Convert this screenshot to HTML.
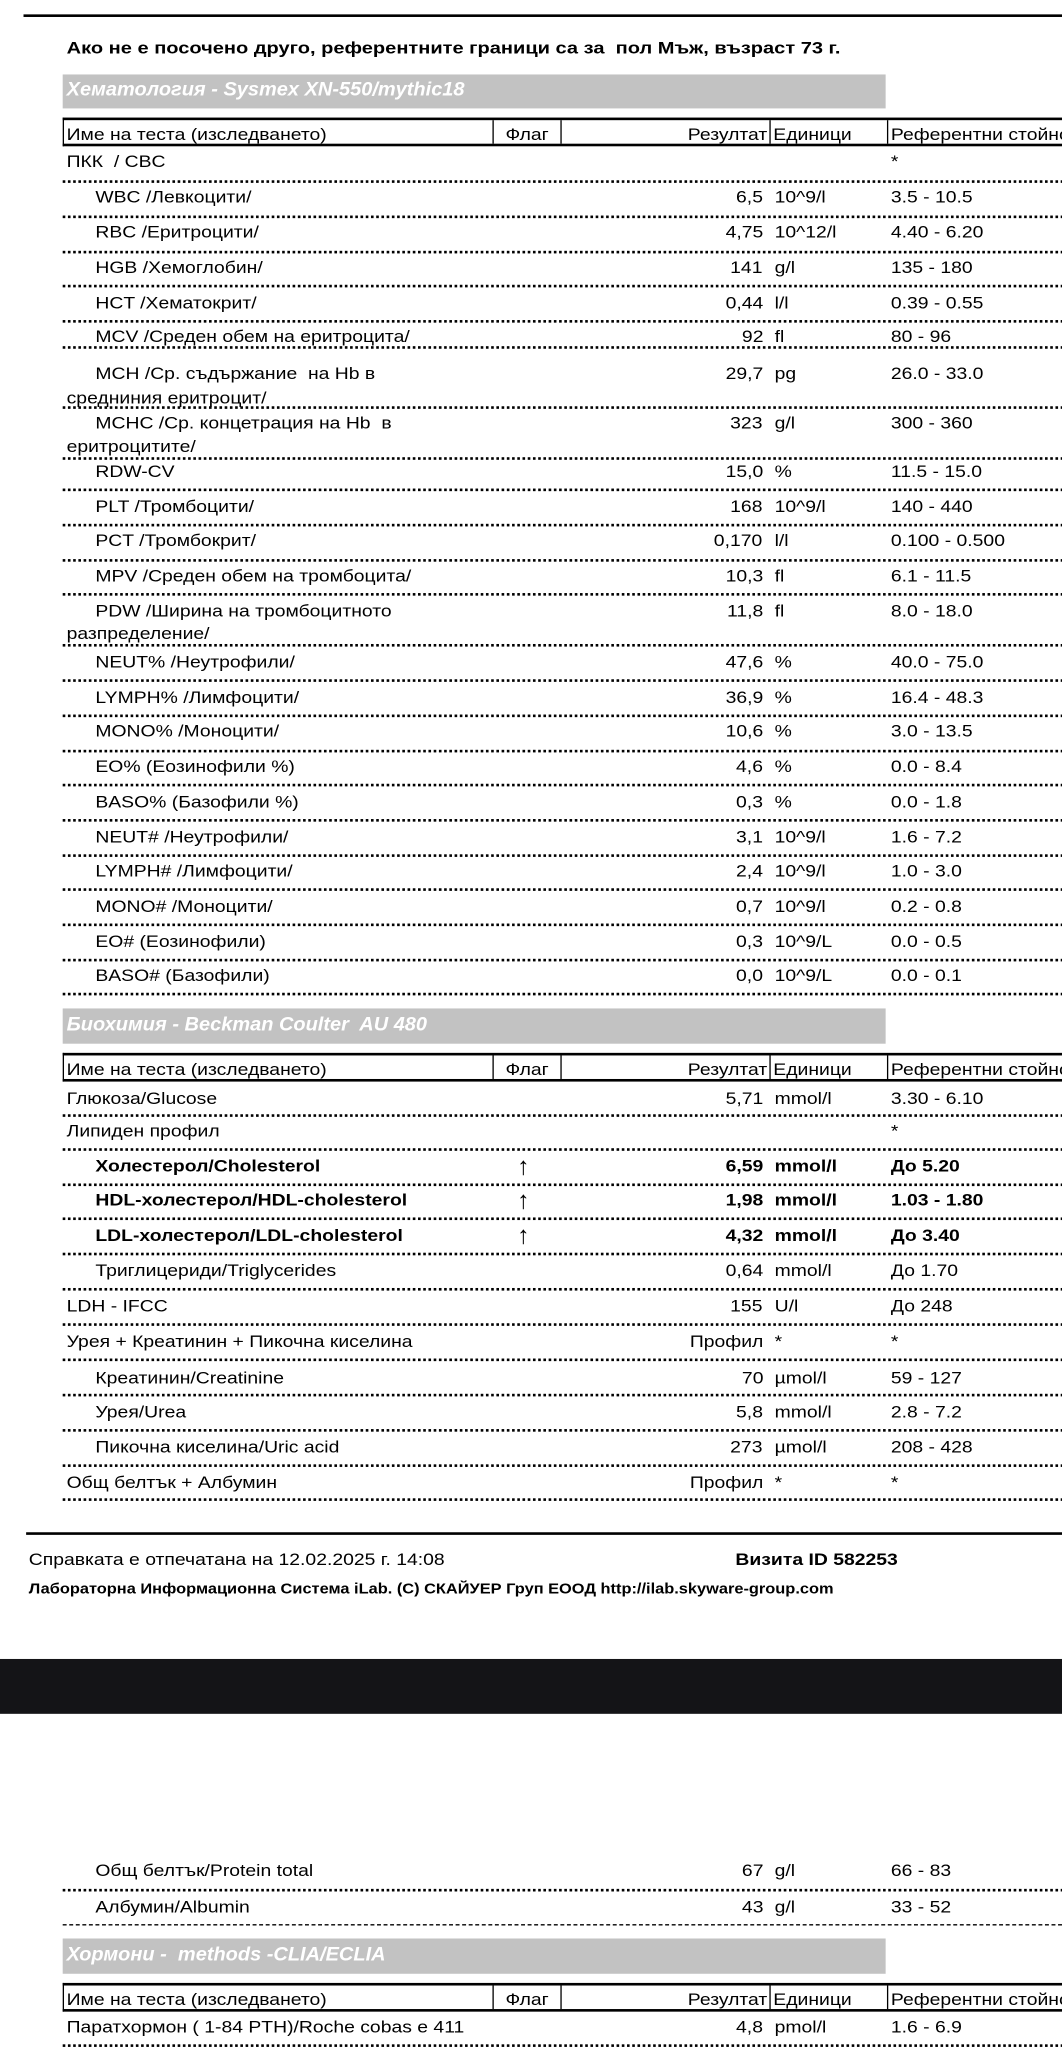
<!DOCTYPE html>
<html><head><meta charset="utf-8">
<style>
html,body{margin:0;padding:0;background:#fff;}
body{width:1062px;height:2048px;overflow:hidden;position:relative;}
#p{position:absolute;left:0;top:0;width:813px;height:1568px;transform:scale(1.30627);transform-origin:0 0;font-family:"Liberation Sans",Arial,sans-serif;color:#000;}
.a{position:absolute;white-space:nowrap;font-size:13px;line-height:16px;height:16px;}
.l{transform:scaleX(1.14);transform-origin:left center;}
.rr{transform:scaleX(1.14);transform-origin:right center;text-align:right;}
.n{left:50.5px}.ni{left:73px}.u{left:592.5px}.f{left:682px}.fl{left:396px;font-size:19px;line-height:18px;font-weight:normal!important}
.v{right:229px}
.b{font-weight:bold}
.d{position:absolute;left:47.5px;width:770px;height:0;border-top:2px dotted #000;}
.g{position:absolute;left:47.5px;width:630.5px;background:#c2c2c2;}
.g span{position:absolute;left:3px;font-style:italic;font-weight:bold;color:#fff;font-size:15px;white-space:nowrap;transform:scaleX(1.02);transform-origin:left center;}
.h{position:absolute;left:47.5px;width:770px;border-top:2px solid #000;border-bottom:2px solid #000;border-left:1px solid #000;box-sizing:border-box;}
.h i{position:absolute;top:0;bottom:0;width:0;border-left:1.5px solid #000;}
.h span{position:absolute;font-size:13px;white-space:nowrap;top:3px;}
</style></head><body><div id="p">

<div style="position:absolute;left:17.6px;top:11px;width:800px;border-top:2px solid #000"></div>
<div class="a b" style="left:50.8px;top:29px;transform:scaleX(1.18);transform-origin:left center">Ако не е посочено друго, референтните граници са за&nbsp; пол Мъж, възраст 73 г.</div>

<div class="g" style="top:57px;height:26px"><span style="top:3px">Хематология - Sysmex XN-550/mythic18</span></div>
<div class="h" style="top:90px;height:22px"><i style="left:328px"></i><i style="left:380px"></i><i style="left:540px"></i><i style="left:630px"></i>
<span class="l" style="left:2px">Име на теста (изследването)</span><span class="l" style="left:338px">Флаг</span><span class="rr" style="right:230px">Резултат</span><span class="l" style="left:543px">Единици</span><span class="l" style="left:633px">Референтни стойности</span></div>

<div class="a l n" style="top:116px">ПКК&nbsp; / CBC</div><div class="a l f" style="top:116px">*</div>
<div class="d" style="top:138px"></div>
<div class="a l ni" style="top:143px">WBC /Левкоцити/</div><div class="a rr v" style="top:143px">6,5</div><div class="a l u" style="top:143px">10^9/l</div><div class="a l f" style="top:143px">3.5 - 10.5</div>
<div class="d" style="top:165px"></div>
<div class="a l ni" style="top:170px">RBC /Еритроцити/</div><div class="a rr v" style="top:170px">4,75</div><div class="a l u" style="top:170px">10^12/l</div><div class="a l f" style="top:170px">4.40 - 6.20</div>
<div class="d" style="top:192px"></div>
<div class="a l ni" style="top:197px">HGB /Хемоглобин/</div><div class="a rr v" style="top:197px">141</div><div class="a l u" style="top:197px">g/l</div><div class="a l f" style="top:197px">135 - 180</div>
<div class="d" style="top:218px"></div>
<div class="a l ni" style="top:224px">HCT /Хематокрит/</div><div class="a rr v" style="top:224px">0,44</div><div class="a l u" style="top:224px">l/l</div><div class="a l f" style="top:224px">0.39 - 0.55</div>
<div class="d" style="top:245px"></div>
<div class="a l ni" style="top:250px">MCV /Среден обем на еритроцита/</div><div class="a rr v" style="top:250px">92</div><div class="a l u" style="top:250px">fl</div><div class="a l f" style="top:250px">80 - 96</div>
<div class="d" style="top:265px"></div>
<div class="a l ni" style="top:278px">MCH /Ср. съдържание&nbsp; на Hb в</div><div class="a rr v" style="top:278px">29,7</div><div class="a l u" style="top:278px">pg</div><div class="a l f" style="top:278px">26.0 - 33.0</div>
<div class="a l n" style="top:297px">средниния еритроцит/</div>
<div class="d" style="top:311px"></div>
<div class="a l ni" style="top:316px">MCHC /Ср. концетрация на Hb&nbsp; в</div><div class="a rr v" style="top:316px">323</div><div class="a l u" style="top:316px">g/l</div><div class="a l f" style="top:316px">300 - 360</div>
<div class="a l n" style="top:334px">еритроцитите/</div>
<div class="d" style="top:350px"></div>
<div class="a l ni" style="top:353px">RDW-CV</div><div class="a rr v" style="top:353px">15,0</div><div class="a l u" style="top:353px">%</div><div class="a l f" style="top:353px">11.5 - 15.0</div>
<div class="d" style="top:374px"></div>
<div class="a l ni" style="top:380px">PLT /Тромбоцити/</div><div class="a rr v" style="top:380px">168</div><div class="a l u" style="top:380px">10^9/l</div><div class="a l f" style="top:380px">140 - 440</div>
<div class="d" style="top:401px"></div>
<div class="a l ni" style="top:406px">PCT /Тромбокрит/</div><div class="a rr v" style="top:406px">0,170</div><div class="a l u" style="top:406px">l/l</div><div class="a l f" style="top:406px">0.100 - 0.500</div>
<div class="d" style="top:428px"></div>
<div class="a l ni" style="top:433px">MPV /Среден обем на тромбоцита/</div><div class="a rr v" style="top:433px">10,3</div><div class="a l u" style="top:433px">fl</div><div class="a l f" style="top:433px">6.1 - 11.5</div>
<div class="d" style="top:454px"></div>
<div class="a l ni" style="top:460px">PDW /Ширина на тромбоцитното</div><div class="a rr v" style="top:460px">11,8</div><div class="a l u" style="top:460px">fl</div><div class="a l f" style="top:460px">8.0 - 18.0</div>
<div class="a l n" style="top:477px">разпределение/</div>
<div class="d" style="top:493px"></div>
<div class="a l ni" style="top:499px">NEUT% /Неутрофили/</div><div class="a rr v" style="top:499px">47,6</div><div class="a l u" style="top:499px">%</div><div class="a l f" style="top:499px">40.0 - 75.0</div>
<div class="d" style="top:520px"></div>
<div class="a l ni" style="top:526px">LYMPH% /Лимфоцити/</div><div class="a rr v" style="top:526px">36,9</div><div class="a l u" style="top:526px">%</div><div class="a l f" style="top:526px">16.4 - 48.3</div>
<div class="d" style="top:547px"></div>
<div class="a l ni" style="top:552px">MONO% /Моноцити/</div><div class="a rr v" style="top:552px">10,6</div><div class="a l u" style="top:552px">%</div><div class="a l f" style="top:552px">3.0 - 13.5</div>
<div class="d" style="top:574px"></div>
<div class="a l ni" style="top:579px">EO% (Еозинофили %)</div><div class="a rr v" style="top:579px">4,6</div><div class="a l u" style="top:579px">%</div><div class="a l f" style="top:579px">0.0 - 8.4</div>
<div class="d" style="top:600px"></div>
<div class="a l ni" style="top:606px">BASO% (Базофили %)</div><div class="a rr v" style="top:606px">0,3</div><div class="a l u" style="top:606px">%</div><div class="a l f" style="top:606px">0.0 - 1.8</div>
<div class="d" style="top:627px"></div>
<div class="a l ni" style="top:633px">NEUT# /Неутрофили/</div><div class="a rr v" style="top:633px">3,1</div><div class="a l u" style="top:633px">10^9/l</div><div class="a l f" style="top:633px">1.6 - 7.2</div>
<div class="d" style="top:654px"></div>
<div class="a l ni" style="top:659px">LYMPH# /Лимфоцити/</div><div class="a rr v" style="top:659px">2,4</div><div class="a l u" style="top:659px">10^9/l</div><div class="a l f" style="top:659px">1.0 - 3.0</div>
<div class="d" style="top:680px"></div>
<div class="a l ni" style="top:686px">MONO# /Моноцити/</div><div class="a rr v" style="top:686px">0,7</div><div class="a l u" style="top:686px">10^9/l</div><div class="a l f" style="top:686px">0.2 - 0.8</div>
<div class="d" style="top:707px"></div>
<div class="a l ni" style="top:713px">EO# (Еозинофили)</div><div class="a rr v" style="top:713px">0,3</div><div class="a l u" style="top:713px">10^9/L</div><div class="a l f" style="top:713px">0.0 - 0.5</div>
<div class="d" style="top:734px"></div>
<div class="a l ni" style="top:739px">BASO# (Базофили)</div><div class="a rr v" style="top:739px">0,0</div><div class="a l u" style="top:739px">10^9/L</div><div class="a l f" style="top:739px">0.0 - 0.1</div>
<div class="d" style="top:760px"></div>

<div class="g" style="top:772px;height:27px"><span style="top:4px">Биохимия - Beckman Coulter&nbsp; AU 480</span></div>
<div class="h" style="top:806px;height:22px"><i style="left:328px"></i><i style="left:380px"></i><i style="left:540px"></i><i style="left:630px"></i>
<span class="l" style="left:2px">Име на теста (изследването)</span><span class="l" style="left:338px">Флаг</span><span class="rr" style="right:230px">Резултат</span><span class="l" style="left:543px">Единици</span><span class="l" style="left:633px">Референтни стойности</span></div>

<div class="a l n" style="top:833px">Глюкоза/Glucose</div><div class="a rr v" style="top:833px">5,71</div><div class="a l u" style="top:833px">mmol/l</div><div class="a l f" style="top:833px">3.30 - 6.10</div>
<div class="d" style="top:853px"></div>
<div class="a l n" style="top:858px">Липиден профил</div><div class="a l f" style="top:858px">*</div>
<div class="d" style="top:879px"></div>
<div class="a l ni b" style="top:885px">Холестерол/Cholesterol</div><div class="a fl" style="top:885px">↑</div><div class="a rr v b" style="top:885px">6,59</div><div class="a l u b" style="top:885px">mmol/l</div><div class="a l f b" style="top:885px">До 5.20</div>
<div class="d" style="top:906px"></div>
<div class="a l ni b" style="top:911px">HDL-холестерол/HDL-cholesterol</div><div class="a fl" style="top:911px">↑</div><div class="a rr v b" style="top:911px">1,98</div><div class="a l u b" style="top:911px">mmol/l</div><div class="a l f b" style="top:911px">1.03 - 1.80</div>
<div class="d" style="top:932px"></div>
<div class="a l ni b" style="top:938px">LDL-холестерол/LDL-cholesterol</div><div class="a fl" style="top:938px">↑</div><div class="a rr v b" style="top:938px">4,32</div><div class="a l u b" style="top:938px">mmol/l</div><div class="a l f b" style="top:938px">До 3.40</div>
<div class="d" style="top:959px"></div>
<div class="a l ni" style="top:965px">Триглицериди/Triglycerides</div><div class="a rr v" style="top:965px">0,64</div><div class="a l u" style="top:965px">mmol/l</div><div class="a l f" style="top:965px">До 1.70</div>
<div class="d" style="top:986px"></div>
<div class="a l n" style="top:992px">LDH - IFCC</div><div class="a rr v" style="top:992px">155</div><div class="a l u" style="top:992px">U/l</div><div class="a l f" style="top:992px">До 248</div>
<div class="d" style="top:1013px"></div>
<div class="a l n" style="top:1019px">Урея + Креатинин + Пикочна киселина</div><div class="a rr v" style="top:1019px">Профил</div><div class="a l u" style="top:1019px">*</div><div class="a l f" style="top:1019px">*</div>
<div class="d" style="top:1040px"></div>
<div class="a l ni" style="top:1047px">Креатинин/Creatinine</div><div class="a rr v" style="top:1047px">70</div><div class="a l u" style="top:1047px">µmol/l</div><div class="a l f" style="top:1047px">59 - 127</div>
<div class="d" style="top:1067px"></div>
<div class="a l ni" style="top:1073px">Урея/Urea</div><div class="a rr v" style="top:1073px">5,8</div><div class="a l u" style="top:1073px">mmol/l</div><div class="a l f" style="top:1073px">2.8 - 7.2</div>
<div class="d" style="top:1094px"></div>
<div class="a l ni" style="top:1100px">Пикочна киселина/Uric acid</div><div class="a rr v" style="top:1100px">273</div><div class="a l u" style="top:1100px">µmol/l</div><div class="a l f" style="top:1100px">208 - 428</div>
<div class="d" style="top:1121px"></div>
<div class="a l n" style="top:1127px">Общ белтък + Албумин</div><div class="a rr v" style="top:1127px">Профил</div><div class="a l u" style="top:1127px">*</div><div class="a l f" style="top:1127px">*</div>
<div class="d" style="top:1147px"></div>

<div style="position:absolute;left:19.7px;top:1173px;width:800px;border-top:2px solid #000"></div>
<div class="a l" style="left:21.8px;top:1186px">Справката е отпечатана на 12.02.2025 г. 14:08</div>
<div class="a l b" style="left:563px;top:1186px">Визита ID 582253</div>
<div class="a l b" style="left:21.8px;top:1209px;font-size:11px">Лабораторна Информационна Система iLab. (C) СКАЙУЕР Груп ЕООД http://ilab.skyware-group.com</div>

<div style="position:absolute;left:0;top:1269.5px;width:813px;height:42px;background:#141417"></div>

<div class="a l ni" style="top:1424px">Общ белтък/Protein total</div><div class="a rr v" style="top:1424px">67</div><div class="a l u" style="top:1424px">g/l</div><div class="a l f" style="top:1424px">66 - 83</div>
<div class="d" style="top:1446px"></div>
<div class="a l ni" style="top:1452px">Албумин/Albumin</div><div class="a rr v" style="top:1452px">43</div><div class="a l u" style="top:1452px">g/l</div><div class="a l f" style="top:1452px">33 - 52</div>
<div style="position:absolute;left:47.5px;top:1473px;width:770px;border-top:1.5px dashed #000"></div>

<div class="g" style="top:1484px;height:27px"><span style="top:4px">Хормони -&nbsp; methods -CLIA/ECLIA</span></div>
<div class="h" style="top:1518px;height:22px"><i style="left:328px"></i><i style="left:380px"></i><i style="left:540px"></i><i style="left:630px"></i>
<span class="l" style="left:2px">Име на теста (изследването)</span><span class="l" style="left:338px">Флаг</span><span class="rr" style="right:230px">Резултат</span><span class="l" style="left:543px">Единици</span><span class="l" style="left:633px">Референтни стойности</span></div>
<div class="a l n" style="top:1544px">Паратхормон ( 1-84 PTH)/Roche cobas e 411</div><div class="a rr v" style="top:1544px">4,8</div><div class="a l u" style="top:1544px">pmol/l</div><div class="a l f" style="top:1544px">1.6 - 6.9</div>
<div class="d" style="top:1565px"></div>

</div></body></html>
